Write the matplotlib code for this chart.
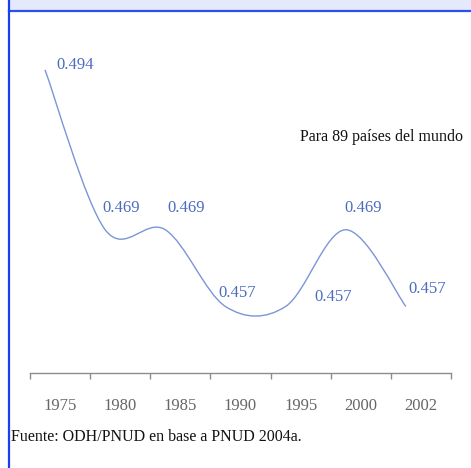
import numpy as np
import matplotlib
matplotlib.use('Agg')
from matplotlib import pyplot as plt
from matplotlib.path import Path
from matplotlib.patches import PathPatch, Rectangle
from matplotlib.lines import Line2D

years = ['1975', '1980', '1985', '1990', '1995', '2000', '2002']
gini = [0.494, 0.469, 0.469, 0.457, 0.457, 0.469, 0.457]
value_labels = ['0.494', '0.469', '0.469', '0.457', '0.457', '0.469', '0.457']

# label offsets in pixels from each point
label_dx = [30, 16, 21, 12, 48, 17, 21]
label_dy = [5, 22, 22, 13, 9, 22, 17]

line_col = '#7b95d6'
label_col = '#4a6cc2'

fig = plt.figure(figsize=(4.71, 4.68), dpi=100)

# frame: top band + left border
fig.patches.append(Rectangle((9 / 471, 1 - 10 / 468), 1, 10 / 468, transform=fig.transFigure,
                             facecolor='#e4eafb', edgecolor='none'))
fig.lines.append(Line2D([9 / 471, 1], [1 - 11 / 468, 1 - 11 / 468], transform=fig.transFigure,
                        color='#2a4ff0', lw=1.6))
fig.lines.append(Line2D([9 / 471, 9 / 471], [0, 1], transform=fig.transFigure,
                        color='#1a3ff0', lw=1.6))

ax = fig.add_axes([30 / 471, 95 / 468, 421 / 471, 353 / 468])
n = len(years)
ax.set_xlim(-0.5, n - 0.5)
ax.set_ylim(0.4466, 0.5018)

# smoothed line (catmull-rom style bezier, like excel)
xs = np.arange(n) - 0.25
ys = np.array(gini)
verts = [(xs[0], ys[0])]
codes = [Path.MOVETO]
for i in range(n - 1):
    x0, y0 = (xs[i - 1], ys[i - 1]) if i > 0 else (xs[i], ys[i])
    x3, y3 = (xs[i + 2], ys[i + 2]) if i + 2 < n else (xs[i + 1], ys[i + 1])
    c1 = (xs[i] + (xs[i + 1] - x0) / 6, ys[i] + (ys[i + 1] - y0) / 6)
    c2 = (xs[i + 1] - (x3 - xs[i]) / 6, ys[i + 1] - (y3 - ys[i]) / 6)
    verts += [c1, c2, (xs[i + 1], ys[i + 1])]
    codes += [Path.CURVE4] * 3
ax.add_patch(PathPatch(Path(verts, codes), facecolor='none', edgecolor=line_col, lw=1.0))

for i in range(n):
    ax.annotate(value_labels[i], (xs[i], ys[i]), xytext=(label_dx[i], label_dy[i]),
                textcoords='offset pixels', ha='center', va='center',
                fontsize=12, family='Liberation Serif', color=label_col)

for s in ['top', 'right', 'left']:
    ax.spines[s].set_visible(False)
ax.spines['bottom'].set_color('#8c8c8c')
ax.spines['bottom'].set_linewidth(1.0)
ax.set_yticks([])
ax.set_xticks(np.arange(n + 1) - 0.5)
ax.set_xticklabels([])
ax.set_xticks(np.arange(n), minor=True)
ax.set_xticklabels(years, minor=True, fontsize=12, family='Liberation Serif', color='#666666')
ax.tick_params(axis='x', which='major', length=4, color='#8c8c8c', width=1)
ax.tick_params(axis='x', which='minor', length=0, pad=18)

fig.text(300 / 471, 1 - 137 / 468, 'Para 89 países del mundo', fontsize=11.5,
         family='Liberation Serif', color='#111111', va='center', ha='left')
fig.text(11 / 471, 1 - 437 / 468, 'Fuente: ODH/PNUD en base a PNUD 2004a.', fontsize=11.5,
         family='Liberation Serif', color='#111111', va='center', ha='left')

fig.savefig('out.png', dpi=100)
